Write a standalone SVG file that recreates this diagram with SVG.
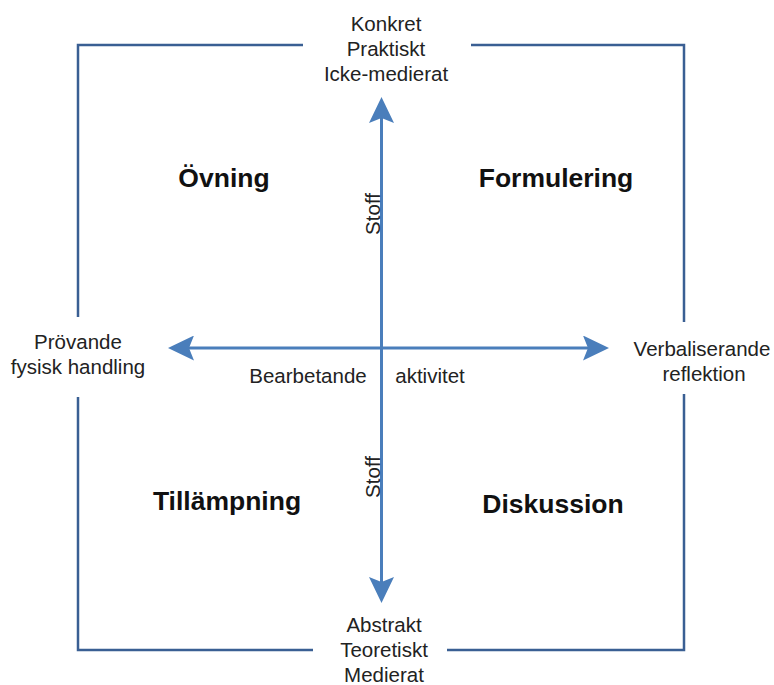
<svg xmlns="http://www.w3.org/2000/svg" width="774" height="685" viewBox="0 0 774 685">
  <style>
    .frame { fill: none; stroke: #3a5f93; stroke-width: 2.5; }
    .axis { fill: none; stroke: #4a7ebb; stroke-width: 3; }
    .lbl { font-family: "Liberation Sans", Arial, sans-serif; font-size: 20.5px; fill: #222; text-anchor: middle; }
    .title { font-family: "Liberation Sans", Arial, sans-serif; font-size: 26.5px; font-weight: bold; fill: #111; text-anchor: middle; }
  </style>
  <defs>
    <marker id="head" viewBox="0 0 26 25" refX="5" refY="12.5" markerWidth="26" markerHeight="25" markerUnits="userSpaceOnUse" orient="auto-start-reverse">
      <path d="M26,12.5 L0,0 L5,12.5 L0,25 Z" fill="#4a7ebb"/>
    </marker>
  </defs>
  <rect width="774" height="685" fill="#fff"/>

  <!-- outer frame, broken where the pole labels sit -->
  <g id="frame">
    <path class="frame" d="M303,45 H78 V317"/>
    <path class="frame" d="M471,45 H684 V322"/>
    <path class="frame" d="M78,397 V650 H313"/>
    <path class="frame" d="M684,394 V650 H447"/>
  </g>

  <!-- axes -->
  <g id="connectors">
    <line class="axis" x1="189" y1="348" x2="588" y2="348" marker-start="url(#head)" marker-end="url(#head)"/>
    <line class="axis" x1="381.5" y1="118" x2="381.5" y2="582" marker-start="url(#head)" marker-end="url(#head)"/>
  </g>

  <g id="pole-top">
    <text class="lbl" x="386" y="31">Konkret</text>
    <text class="lbl" x="386" y="56">Praktiskt</text>
    <text class="lbl" x="386" y="81">Icke-medierat</text>
  </g>
  <g id="pole-bottom">
    <text class="lbl" x="384" y="632">Abstrakt</text>
    <text class="lbl" x="384" y="657">Teoretiskt</text>
    <text class="lbl" x="384" y="682">Medierat</text>
  </g>
  <g id="pole-left">
    <text class="lbl" x="78" y="349">Prövande</text>
    <text class="lbl" x="78" y="374">fysisk handling</text>
  </g>
  <g id="pole-right">
    <text class="lbl" x="702" y="356">Verbaliserande</text>
    <text class="lbl" x="704" y="381">reflektion</text>
  </g>

  <g id="axis-labels">
    <text class="lbl" x="308" y="383">Bearbetande</text>
    <text class="lbl" x="430" y="383">aktivitet</text>
    <text class="lbl" transform="translate(380,214) rotate(-90)" y="0">Stoff</text>
    <text class="lbl" transform="translate(380,477) rotate(-90)" y="0">Stoff</text>
  </g>

  <g id="q-ovning"><text class="title" x="224" y="187">Övning</text></g>
  <g id="q-formulering"><text class="title" x="556" y="187">Formulering</text></g>
  <g id="q-tillampning"><text class="title" x="227" y="510">Tillämpning</text></g>
  <g id="q-diskussion"><text class="title" x="553" y="513">Diskussion</text></g>
</svg>
